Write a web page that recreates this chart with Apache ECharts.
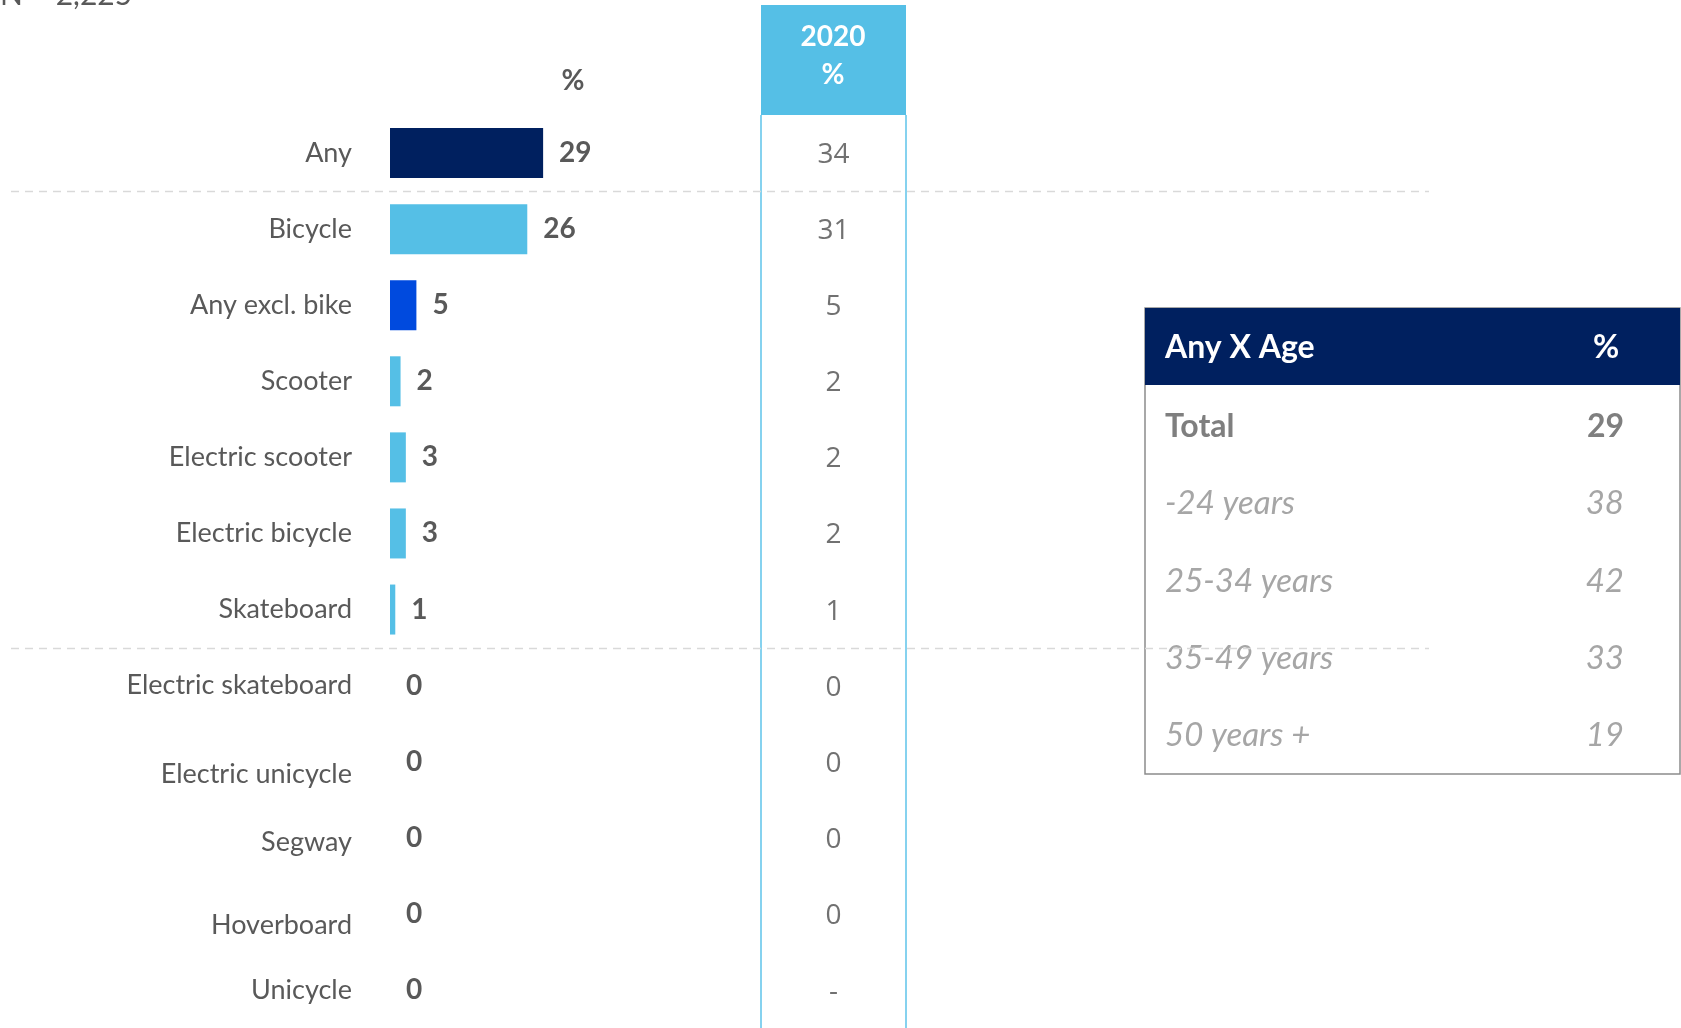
<!DOCTYPE html>
<html><head><meta charset="utf-8">
<script src="https://cdn.jsdelivr.net/npm/echarts@6/dist/echarts.min.js"></script>
<style>html,body{margin:0;padding:0;background:#fff}#c{width:1681px;height:1028px}</style>
</head><body><div id="c"></div>
<script>
// ---- data ----
const categories = ['Any','Bicycle','Any excl. bike','Scooter','Electric scooter','Electric bicycle','Skateboard','Electric skateboard','Electric unicycle','Segway','Hoverboard','Unicycle'];
const values2021 = [29,26,5,2,3,3,1,0,0,0,0,0];
const values2020 = ['34','31','5','2','2','2','1','0','0','0','0','-'];
const ageLabels = ['Total','-24 years','25-34 years','35-49 years','50 years +'];
const ageValues = ['29','38','42','33','19'];
const sampleLabel = 'N = 2,225';
const header2020 = '2020\n%';
const tableTitle = 'Any X Age';
const groupBreaks = ['Bicycle','Electric skateboard']; // dashed separator before these

// ---- styles ----
const FONT = 'Lato, "Noto Sans", sans-serif';
const GREY = '#595959';
const LIGHT = '#55bfe6';
const barColorMap = {'Any':'#00205f','Any excl. bike':'#004ade'};
const labelDrop = {'Electric unicycle':13,'Segway':5,'Hoverboard':11}; // label nudges as in the original layout

const catRich = {n:{color:GREY, fontSize:27, fontFamily:FONT}};
Object.keys(labelDrop).forEach((c,k)=>{
  catRich['d'+k] = {color:GREY, fontSize:27, fontFamily:FONT, padding:[labelDrop[c]*2,0,0,0]};
});

const chart = echarts.init(document.getElementById('c'), null, {renderer:'canvas'});

const rich = {b:{fontWeight:'bold', color:'#7f7f7f', fontSize:32, fontFamily:FONT},
              i:{fontStyle:'italic', color:'#a6a6a6', fontSize:33, fontFamily:FONT}};

const option = {
  backgroundColor:'#fff',
  animation:false,
  grid:[
    {left:390, top:115, width:528, height:913},
    {left:761, top:115, width:145, height:913},
    {left:1145, top:388, width:535, height:386}
  ],
  xAxis:[
    {gridIndex:0, type:'value', min:0, max:100, show:false},
    {gridIndex:1, type:'value', min:0, max:1, interval:1,
     axisLine:{show:false}, axisTick:{show:false}, axisLabel:{show:false},
     splitLine:{show:true, lineStyle:{color:'#86d2ef', width:2}}},
    {gridIndex:2, type:'value', min:0, max:1, show:false}
  ],
  yAxis:[
    {gridIndex:0, type:'category', inverse:true, data:categories,
     axisLine:{show:false}, axisTick:{show:false},
     axisLabel:{margin:38, color:GREY, fontSize:27, fontFamily:FONT,
       formatter:v=>{const k=Object.keys(labelDrop).indexOf(v); return k>=0 ? '{d'+k+'|'+v+'}' : '{n|'+v+'}';},
       rich:catRich}},
    {gridIndex:1, type:'category', data:categories, inverse:true, show:false},
    {gridIndex:2, type:'category', data:ageLabels, inverse:true,
     axisLine:{show:false}, axisTick:{show:false},
     axisLabel:{inside:true, margin:20, fontFamily:FONT,
       formatter:(v,i)=> i===0 ? '{b|'+v+'}' : '{i|'+v+'}', rich:rich}},
    {gridIndex:2, type:'category', data:ageValues, inverse:true, position:'right',
     axisLine:{show:false}, axisTick:{show:false},
     axisLabel:{inside:true, margin:56, fontFamily:FONT,
       formatter:(v,i)=> i===0 ? '{b|'+v+'}' : '{i|'+v+'}', rich:rich}}
  ],
  series:[
    {type:'bar', xAxisIndex:0, yAxisIndex:0, barWidth:50,
     data: values2021.map((v,i)=>({value:v, itemStyle:{color: barColorMap[categories[i]] || LIGHT}})),
     label:{show:true, position:'right', distance:16, color:GREY, fontWeight:'bold', fontSize:28, fontFamily:FONT}},
    {type:'scatter', xAxisIndex:1, yAxisIndex:1, symbolSize:1, itemStyle:{color:'rgba(0,0,0,0)'},
     data: categories.map(c=>[0.5, c]),
     label:{show:true, position:'inside', formatter:p=>values2020[p.dataIndex],
            color:'#4d4d4d', fontSize:28, fontFamily:'"Open Sans", sans-serif', offset:[0,2]}},
    {type:'scatter', xAxisIndex:2, yAxisIndex:2, data:[]}
  ],
  graphic:[
    {id:'n', type:'text', left:0, top:-20, style:{text:sampleLabel, fontSize:30, fontFamily:FONT, fill:GREY}},
    {id:'pct', type:'text', x:573, y:81, style:{text:'%', fontSize:28, fontWeight:'bold', fontFamily:FONT, fill:GREY, align:'center', verticalAlign:'middle'}},
    {id:'h2020', type:'rect', shape:{x:761, y:5, width:145, height:110}, style:{fill:LIGHT}},
    {id:'h2020t', type:'text', x:833, y:56, style:{text:header2020, fontSize:28, lineHeight:38, fontWeight:'bold', fontFamily:FONT, fill:'#fff', align:'center', verticalAlign:'middle'}},
    {id:'tbox', type:'rect', shape:{x:1145, y:308, width:535, height:466}, style:{fill:'none', stroke:'#8c8c8c', lineWidth:1.5}},
    {id:'thead', type:'rect', shape:{x:1145, y:308, width:535, height:77}, style:{fill:'#00205f'}},
    {id:'ttitle', type:'text', x:1165, y:348, style:{text:tableTitle, fontSize:32, fontWeight:'bold', fontFamily:FONT, fill:'#fff', verticalAlign:'middle'}},
    {id:'tpct', type:'text', x:1606, y:348, style:{text:'%', fontSize:32, fontWeight:'bold', fontFamily:FONT, fill:'#fff', align:'center', verticalAlign:'middle'}}
  ]
};
chart.setOption(option);

// dashed separators at category boundaries, computed from the axis
const lines = groupBreaks.map((name,k)=>{
  const idx = categories.indexOf(name);
  const y1 = chart.convertToPixel({yAxisIndex:0}, categories[idx-1]);
  const y2 = chart.convertToPixel({yAxisIndex:0}, categories[idx]);
  const y = Math.round((y1+y2)/2)+0.5;
  return {id:'sep'+k, type:'line', z:50, shape:{x1:11, y1:y, x2:1429, y2:y},
          style:{stroke:'#d9d9d9', lineWidth:1.5, lineDash:[8,6]}};
});
chart.setOption({graphic:lines});
</script></body></html>
